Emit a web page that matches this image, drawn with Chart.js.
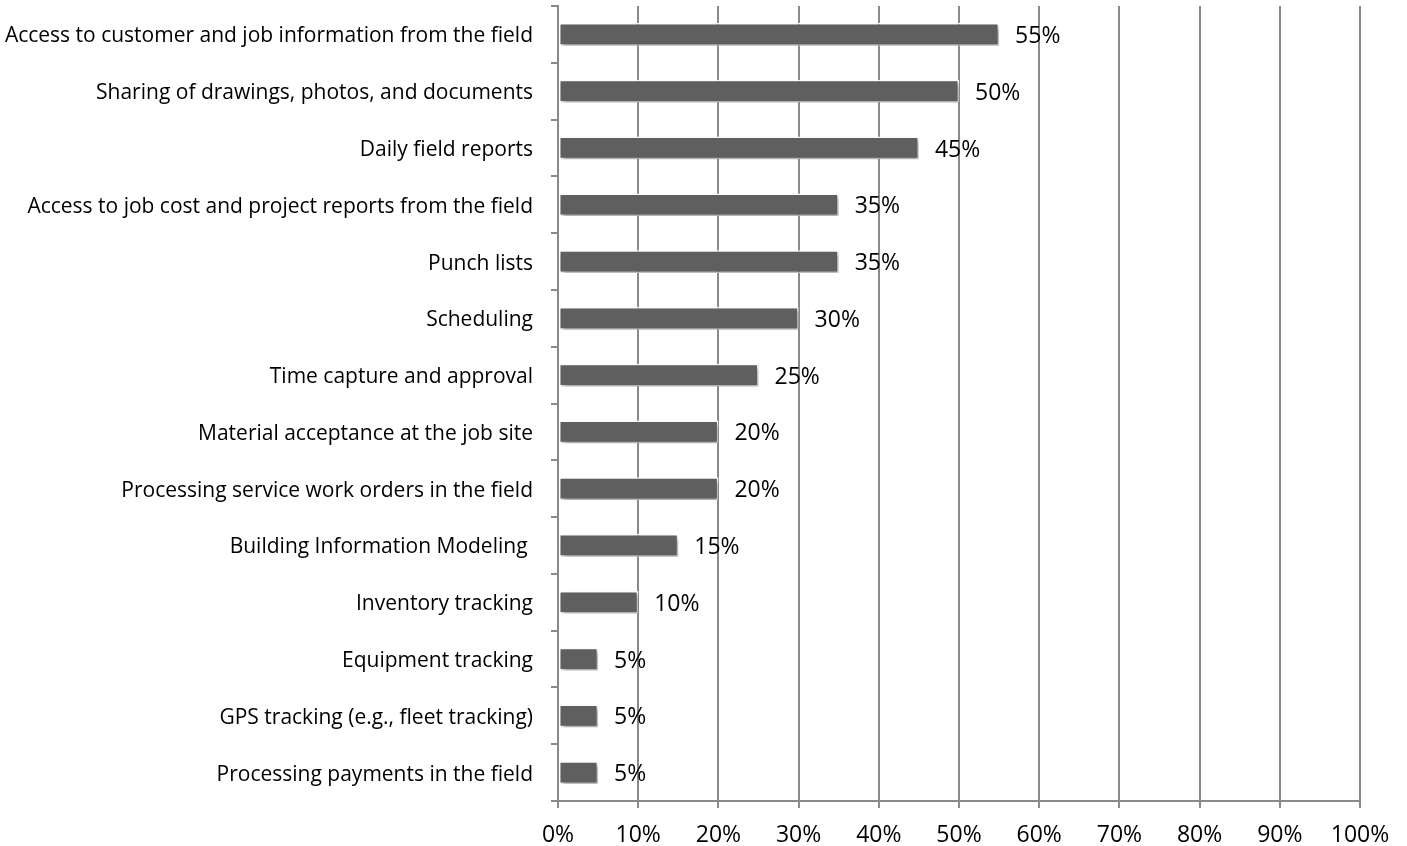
<!DOCTYPE html>
<html><head><meta charset="utf-8">
<script src="https://cdn.jsdelivr.net/npm/chart.js@4"></script>
<style>html,body{margin:0;padding:0;background:#fff}#wrap{width:1407px;height:846px}</style>
</head><body><div id="wrap"><canvas id="c" width="1407" height="846"></canvas></div>
<script>
const categories = [
  "Access to customer and job information from the field",
  "Sharing of drawings, photos, and documents",
  "Daily field reports",
  "Access to job cost and project reports from the field",
  "Punch lists",
  "Scheduling",
  "Time capture and approval",
  "Material acceptance at the job site",
  "Processing service work orders in the field",
  "Building Information Modeling ",
  "Inventory tracking",
  "Equipment tracking",
  "GPS tracking (e.g., fleet tracking)",
  "Processing payments in the field"
];
const values = [55, 50, 45, 35, 35, 30, 25, 20, 20, 15, 10, 5, 5, 5];
const xTicks = [0, 10, 20, 30, 40, 50, 60, 70, 80, 90, 100];

const FONT = "'Open Sans', Lato, sans-serif";

const shadowPlugin = {
  id: 'shadow',
  beforeDatasetDraw(chart) {
    const ctx = chart.ctx;
    ctx.save();
    ctx.shadowColor = 'rgba(0,0,0,0.35)';
    ctx.shadowBlur = 4;
    ctx.shadowOffsetX = 2;
    ctx.shadowOffsetY = 3;
  },
  afterDatasetDraw(chart) { chart.ctx.restore(); }
};

const labelPlugin = {
  id: 'labels',
  afterDatasetsDraw(chart) {
    const ctx = chart.ctx;
    const meta = chart.getDatasetMeta(0);
    ctx.save();
    ctx.font = "23px " + FONT;
    ctx.fillStyle = '#000';
    ctx.textAlign = 'left';
    ctx.textBaseline = 'middle';
    meta.data.forEach((bar, i) => {
      ctx.fillText(values[i] + '%', bar.x + 16, bar.y + 2);
    });
    ctx.restore();
  }
};

new Chart(document.getElementById('c'), {
  type: 'bar',
  data: {
    labels: categories,
    datasets: [{
      data: values,
      backgroundColor: '#5f5f5f',
      borderColor: '#ffffff',
      borderWidth: 1.5,
      borderSkipped: false,
      barPercentage: 0.8,
      categoryPercentage: 0.5
    }]
  },
  options: {
    indexAxis: 'y',
    responsive: false,
    animation: false,
    layout: { padding: { top: 6, right: 47, left: 0, bottom: 0 } },
    plugins: { legend: { display: false }, tooltip: { enabled: false } },
    scales: {
      x: {
        min: 0, max: 100,
        afterBuildTicks(axis) { axis.ticks = xTicks.map(v => ({ value: v })); },
        afterFit(axis) { axis.height = 45; axis.paddingLeft = 0; axis.paddingRight = 0; },
        grid: { color: '#8a8a8a', lineWidth: 2, tickLength: 7, drawTicks: true },
        border: { color: '#8a8a8a', width: 2 },
        ticks: {
          callback: v => v + '%',
          color: '#000',
          font: { family: FONT, size: 23 },
          padding: 14,
          maxRotation: 0
        }
      },
      y: {
        afterFit(axis) { axis.width = 558; axis.paddingTop = 0; axis.paddingBottom = 0; },
        grid: { offset: true, drawOnChartArea: false, color: '#8a8a8a', lineWidth: 2, tickLength: 7 },
        border: { color: '#8a8a8a', width: 2 },
        ticks: {
          color: '#000',
          font: { family: FONT, size: 21 },
          padding: 18,
          labelOffset: 2,
          autoSkip: false
        }
      }
    }
  },
  plugins: [shadowPlugin, labelPlugin]
});
</script></body></html>
